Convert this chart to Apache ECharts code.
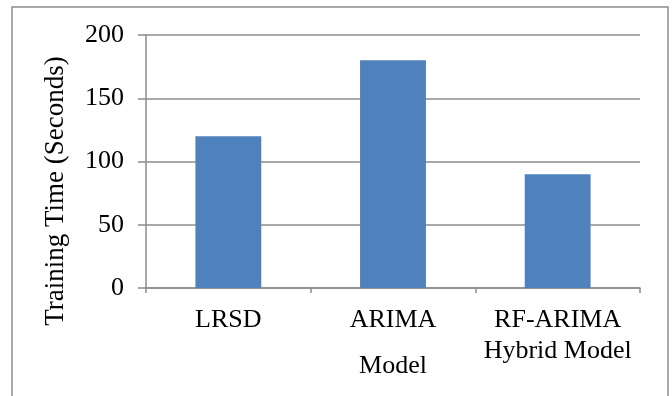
<!DOCTYPE html>
<html lang="en">
<head>
    <meta charset="UTF-8">
    <title>Training Time</title>
    <script src="https://cdn.jsdelivr.net/npm/echarts@6/dist/echarts.min.js"></script>
    <style>
        html, body { margin: 0; padding: 0; background: #fff; }
        .chart { width: 672px; height: 396px; }
    </style>
</head>
<body>
<div class="chart"></div>
<script>
    let chart = echarts.init(document.querySelector('.chart'));

    // data
    let models = ['LRSD', 'ARIMA', 'RF-ARIMA\nHybrid Model'];
    let trainingTime = [120, 180, 90];
    let yTicks = {min: 0, max: 200, interval: 50};

    let font = '"Liberation Serif", "Times New Roman", serif';
    let gray = '#8c8c8c';

    let option = {
        animation: false,
        textStyle: {fontFamily: font},
        graphic: [
            {
                type: 'rect',
                shape: {x: 12, y: 7, width: 656, height: 400},
                style: {fill: 'none', stroke: gray, lineWidth: 1.5},
                silent: true
            }
        ],
        grid: {left: 146, top: 35, right: 32, bottom: 108, outerBoundsMode: 'none'},
        xAxis: {
            type: 'category',
            data: models,
            name: 'Model',
            nameLocation: 'middle',
            nameGap: 65,
            nameMoveOverlap: false,
            nameTextStyle: {fontFamily: font, fontSize: 26, color: '#000'},
            axisLine: {lineStyle: {color: gray, width: 1.5}},
            axisTick: {show: true, length: 5, alignWithLabel: false, lineStyle: {color: gray, width: 1.5}},
            axisLabel: {fontFamily: font, fontSize: 26, color: '#000', margin: 17, lineHeight: 31, interval: 0}
        },
        yAxis: {
            type: 'value',
            min: yTicks.min,
            max: yTicks.max,
            interval: yTicks.interval,
            name: 'Training Time (Seconds)',
            nameLocation: 'middle',
            nameGap: 77,
            nameMoveOverlap: false,
            nameTextStyle: {fontFamily: font, fontSize: 27, color: '#000', padding: [0, 59, 0, 0]},
            axisLine: {show: true, lineStyle: {color: gray, width: 1.5}},
            axisTick: {show: true, length: 8, lineStyle: {color: gray, width: 1.5}},
            axisLabel: {fontFamily: font, fontSize: 26, color: '#000', margin: 22},
            splitLine: {lineStyle: {color: gray, width: 1.5}}
        },
        series: [
            {
                type: 'bar',
                data: trainingTime,
                barCategoryGap: '60%',
                itemStyle: {color: '#4F81BD'}
            }
        ]
    };

    chart.setOption(option);
</script>
</body>
</html>
